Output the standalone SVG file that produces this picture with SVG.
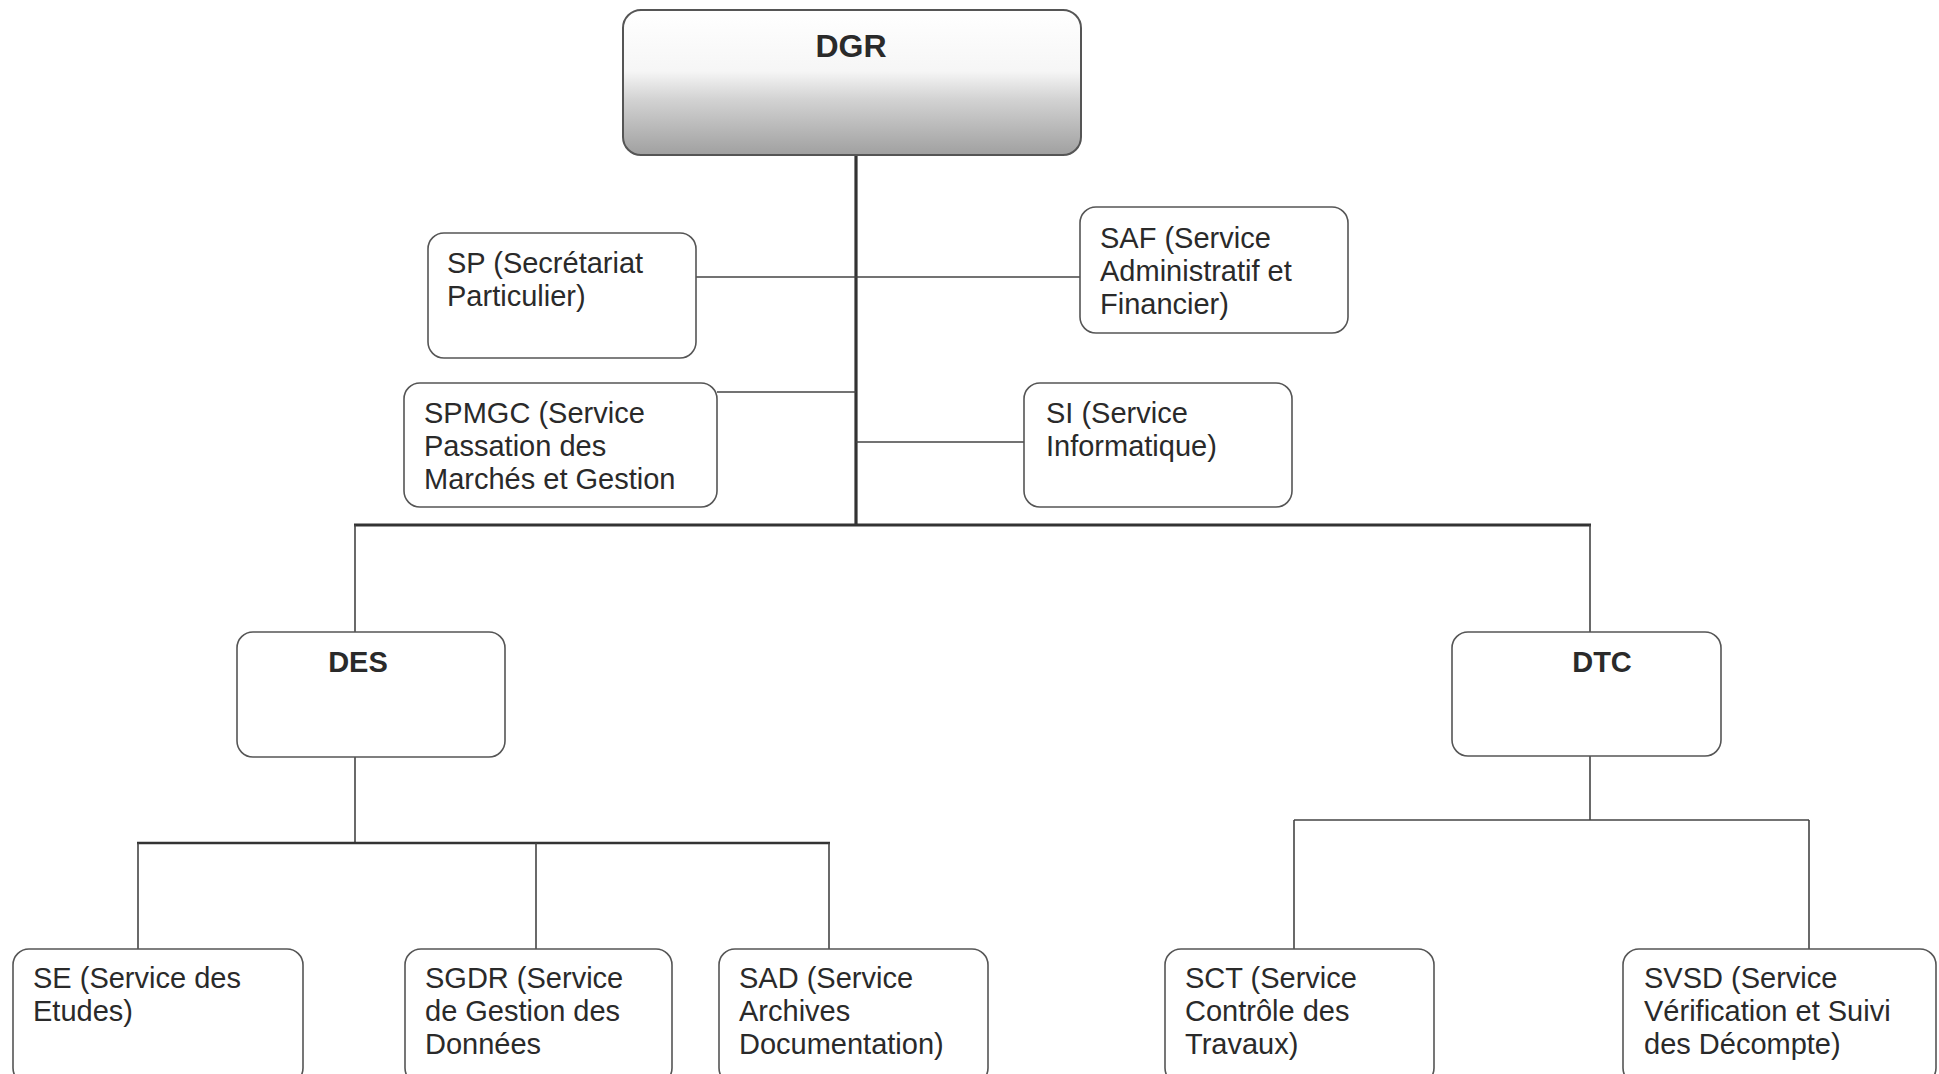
<svg xmlns="http://www.w3.org/2000/svg" width="1939" height="1074" viewBox="0 0 1939 1074">
<defs>
<linearGradient id="dgrGrad" x1="0" y1="0" x2="0" y2="1">
<stop offset="0" stop-color="#ffffff"/>
<stop offset="0.42" stop-color="#f6f6f6"/>
<stop offset="0.62" stop-color="#d2d2d2"/>
<stop offset="1" stop-color="#a0a0a0"/>
</linearGradient>
<style>
.box{fill:#ffffff;stroke:#555555;stroke-width:1.6}
.t{font-family:"Liberation Sans",Arial,sans-serif;font-size:29px;fill:#2a2a2a}
.b{font-family:"Liberation Sans",Arial,sans-serif;font-size:29px;font-weight:bold;fill:#2a2a2a;text-anchor:middle}
.c{fill:none;stroke:#444444;stroke-width:1.6}
.trunk{fill:none;stroke:#333333;stroke-width:3.2}
</style>
</defs>
<rect width="1939" height="1074" fill="#ffffff"/>
<g id="connectors">
<line class="trunk" x1="856" y1="155" x2="856" y2="526"/>
<line class="trunk" x1="354" y1="525" x2="1591" y2="525"/>
<line class="c" x1="696" y1="277" x2="1080" y2="277"/>
<line class="c" x1="717" y1="392" x2="856" y2="392"/>
<line class="c" x1="856" y1="442" x2="1024" y2="442"/>
<line class="c" x1="355" y1="525" x2="355" y2="632"/>
<line class="c" x1="1590" y1="525" x2="1590" y2="632"/>
<line class="c" x1="355" y1="757" x2="355" y2="843"/>
<line class="trunk" style="stroke-width:2.4" x1="137" y1="843" x2="830" y2="843"/>
<line class="c" x1="138" y1="843" x2="138" y2="949"/>
<line class="c" x1="536" y1="843" x2="536" y2="949"/>
<line class="c" x1="829" y1="843" x2="829" y2="949"/>
<line class="c" x1="1590" y1="756" x2="1590" y2="820"/>
<line class="c" x1="1294" y1="820" x2="1809" y2="820"/>
<line class="c" x1="1294" y1="820" x2="1294" y2="949"/>
<line class="c" x1="1809" y1="820" x2="1809" y2="949"/>
</g>
<g id="DGR">
<rect x="623" y="10" width="458" height="145" rx="18" fill="url(#dgrGrad)" stroke="#555555" stroke-width="2"/>
<text class="b" x="851" y="57" style="font-size:32px">DGR</text>
</g>
<g id="SP">
<rect class="box" x="428" y="233" width="268" height="125" rx="16"/>
<text class="t" x="447" y="273">SP (Secrétariat</text>
<text class="t" x="447" y="306">Particulier)</text>
</g>
<g id="SAF">
<rect class="box" x="1080" y="207" width="268" height="126" rx="16"/>
<text class="t" x="1100" y="248">SAF (Service</text>
<text class="t" x="1100" y="281">Administratif et</text>
<text class="t" x="1100" y="314">Financier)</text>
</g>
<g id="SPMGC">
<rect class="box" x="404" y="383" width="313" height="124" rx="16"/>
<text class="t" x="424" y="423">SPMGC (Service</text>
<text class="t" x="424" y="456">Passation des</text>
<text class="t" x="424" y="489">Marchés et Gestion</text>
</g>
<g id="SI">
<rect class="box" x="1024" y="383" width="268" height="124" rx="16"/>
<text class="t" x="1046" y="423">SI (Service</text>
<text class="t" x="1046" y="456">Informatique)</text>
</g>
<g id="DES">
<rect class="box" x="237" y="632" width="268" height="125" rx="16"/>
<text class="b" x="358" y="672">DES</text>
</g>
<g id="DTC">
<rect class="box" x="1452" y="632" width="269" height="124" rx="16"/>
<text class="b" x="1602" y="672">DTC</text>
</g>
<g id="SE">
<rect class="box" x="13" y="949" width="290" height="135" rx="16"/>
<text class="t" x="33" y="988">SE (Service des</text>
<text class="t" x="33" y="1021">Etudes)</text>
</g>
<g id="SGDR">
<rect class="box" x="405" y="949" width="267" height="135" rx="16"/>
<text class="t" x="425" y="988">SGDR (Service</text>
<text class="t" x="425" y="1021">de Gestion des</text>
<text class="t" x="425" y="1054">Données</text>
</g>
<g id="SAD">
<rect class="box" x="719" y="949" width="269" height="135" rx="16"/>
<text class="t" x="739" y="988">SAD (Service</text>
<text class="t" x="739" y="1021">Archives</text>
<text class="t" x="739" y="1054">Documentation)</text>
</g>
<g id="SCT">
<rect class="box" x="1165" y="949" width="269" height="135" rx="16"/>
<text class="t" x="1185" y="988">SCT (Service</text>
<text class="t" x="1185" y="1021">Contrôle des</text>
<text class="t" x="1185" y="1054">Travaux)</text>
</g>
<g id="SVSD">
<rect class="box" x="1623" y="949" width="313" height="135" rx="16"/>
<text class="t" x="1644" y="988">SVSD (Service</text>
<text class="t" x="1644" y="1021">Vérification et Suivi</text>
<text class="t" x="1644" y="1054">des Décompte)</text>
</g>
</svg>
